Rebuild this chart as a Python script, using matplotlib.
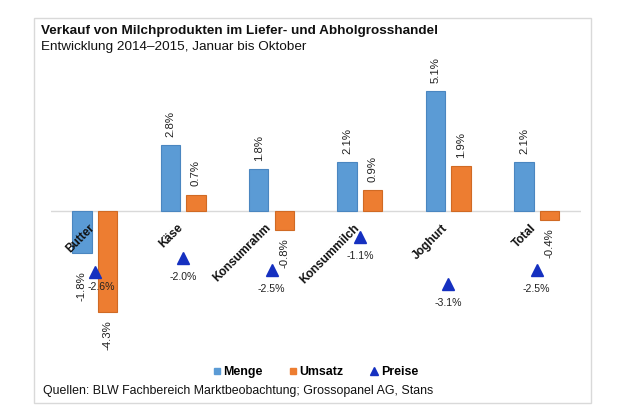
import matplotlib
matplotlib.use("Agg")
import matplotlib.pyplot as plt
from matplotlib.lines import Line2D
from matplotlib.patches import Rectangle
import numpy as np

plt.rcParams['font.family'] = ['Liberation Sans', 'DejaVu Sans']

categories = ["Butter", "Käse", "Konsumrahm", "Konsummilch", "Joghurt", "Total"]
menge = [-1.8, 2.8, 1.8, 2.1, 5.1, 2.1]
umsatz = [-4.3, 0.7, -0.8, 0.9, 1.9, -0.4]
preise = [-2.6, -2.0, -2.5, -1.1, -3.1, -2.5]
series_names = ["Menge", "Umsatz", "Preise"]
title = "Verkauf von Milchprodukten im Liefer- und Abholgrosshandel"
subtitle = "Entwicklung 2014–2015, Januar bis Oktober"
source = "Quellen: BLW Fachbereich Marktbeobachtung; Grossopanel AG, Stans"

BLUE = "#5B9BD5"
BLUE_E = "#4A86C0"
ORANGE = "#ED7D31"
ORANGE_E = "#D06A24"
TRI = "#1530C0"

# label nudges (points) to mimic the reference's label placement in the crowded Butter group
menge_label_extra = {0: -7.0}
preise_label_nudge = {0: (5.0, -10.5)}

W, H = 620, 420
fig = plt.figure(figsize=(6.2, 4.2), dpi=100)
ax = fig.add_axes([50.5 / W, 1 - 328.5 / H, 530.4 / W, 270.25 / H])
ax.set_xlim(-0.5, len(categories) - 0.5)
ax.set_ylim(-5, 6.5)
ax.axis('off')

x = np.arange(len(categories))
bw = 0.22
off = 0.144

ax.axhline(0, color="#d9d9d9", lw=1, zorder=1)
ax.bar(x - off, menge, bw, color=BLUE, edgecolor=BLUE_E, lw=0.8, zorder=2)
ax.bar(x + off, umsatz, bw, color=ORANGE, edgecolor=ORANGE_E, lw=0.8, zorder=2)
ax.plot(x, preise, linestyle='none', marker='^', markersize=8, color=TRI, zorder=3)

def vlabel(xx, v, extra=0.0):
    if v >= 0:
        ax.annotate(f"{v:.1f}%", (xx, v), xytext=(0, 5.8), textcoords='offset points',
                    rotation=90, ha='center', va='bottom', fontsize=8.2, color='#222222')
    else:
        ax.annotate(f"{v:.1f}%", (xx, v), xytext=(0, -5.8 + extra), textcoords='offset points',
                    rotation=90, ha='center', va='top', fontsize=8.2, color='#222222')

for i in range(len(categories)):
    vlabel(x[i] - off, menge[i], menge_label_extra.get(i, 0.0))
    vlabel(x[i] + off, umsatz[i])
    ax.annotate(f"{preise[i]:.1f}%", (x[i], preise[i]), xytext=preise_label_nudge.get(i, (0, -13.5)),
                textcoords='offset points', ha='center', va='center', fontsize=7.6, color='#222222')
    ax.text(x[i] + 2 / 88.4, -11 / 23.5, categories[i], rotation=45, ha='right', va='top',
            fontsize=8.6, fontweight='bold', color='#111111')

fig.text(41 / W, 1 - 31 / H, title, fontsize=9.7, fontweight='bold', va='center', ha='left', color='#111111')
fig.text(41 / W, 1 - 47 / H, subtitle, fontsize=9.7, va='center', ha='left', color='#111111')
fig.text(43 / W, 1 - 391 / H, source, fontsize=8.9, va='center', ha='left', color='#111111')

handles = [
    Line2D([], [], linestyle='none', marker='s', markersize=5, color=BLUE),
    Line2D([], [], linestyle='none', marker='s', markersize=5, color=ORANGE),
    Line2D([], [], linestyle='none', marker='^', markersize=6, color=TRI),
]
leg = fig.legend(handles, series_names, loc='center', bbox_to_anchor=(315.5 / W, 1 - 372 / H),
                 ncol=3, frameon=False, handlelength=0.6, handletextpad=0.2, columnspacing=2.2,
                 prop={'weight': 'bold', 'size': 8.9})

fig.add_artist(Rectangle((34 / W, 1 - 403 / H), (591 - 34) / W, (403 - 18) / H,
                         transform=fig.transFigure, fill=False, ec='#d9d9d9', lw=1))

fig.savefig("out.png", dpi=100)
